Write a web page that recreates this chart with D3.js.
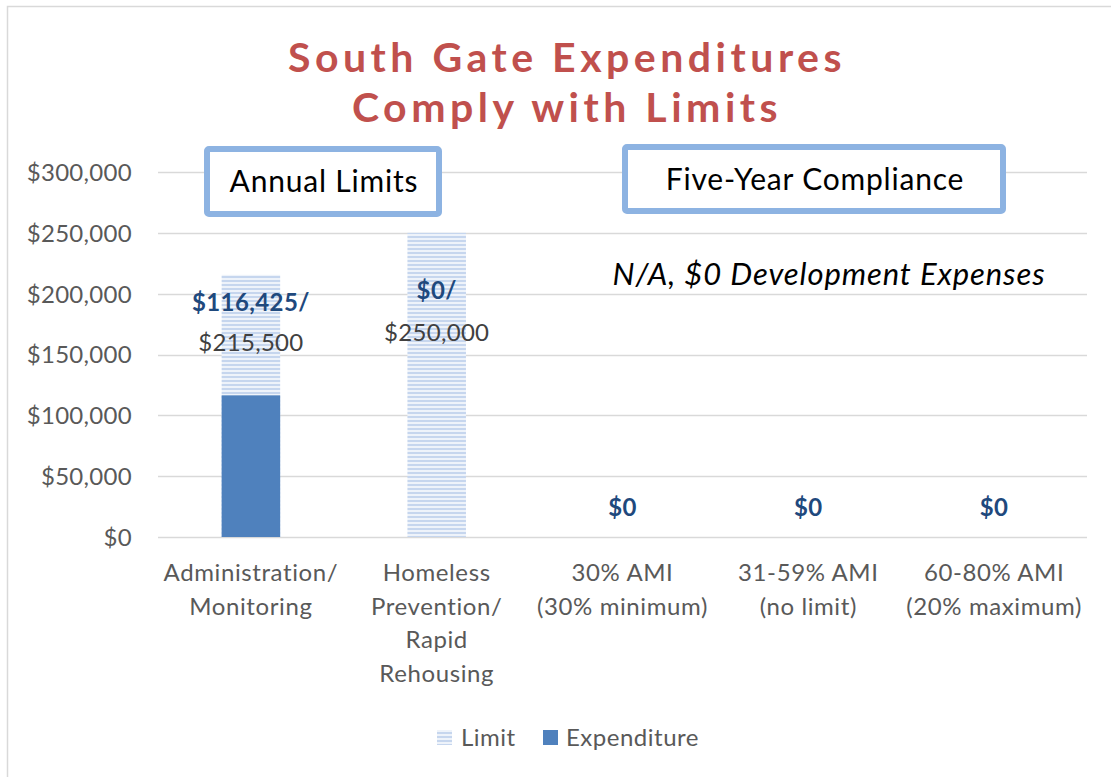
<!DOCTYPE html>
<html>
<head>
<meta charset="utf-8">
<script src="https://cdn.jsdelivr.net/npm/d3@7"></script>
<style>
  html, body { margin: 0; padding: 0; background: #fff; }
  svg { display: block; }
  text { font-family: Lato, "Open Sans", sans-serif; }
</style>
</head>
<body>
<svg id="chart" width="1111" height="777"></svg>
<script>
const categories = [
  ["Administration/", "Monitoring"],
  ["Homeless", "Prevention/", "Rapid", "Rehousing"],
  ["30% AMI", "(30% minimum)"],
  ["31-59% AMI", "(no limit)"],
  ["60-80% AMI", "(20% maximum)"]
];
const limitValues = [215500, 250000, 0, 0, 0];
const expenditureValues = [116425, 0, 0, 0, 0];
const expenditureLabels = ["$116,425/", "$0/", "$0", "$0", "$0"];
const limitLabels = ["$215,500", "$250,000", "", "", ""];
const yTicks = [0, 50000, 100000, 150000, 200000, 250000, 300000];
const seriesNames = ["Limit", "Expenditure"];

const svg = d3.select("#chart");
const W = 1111, H = 777;

// outer border
svg.append("rect").attr("x", 7.5).attr("y", 6.5).attr("width", W).attr("height", H)
  .attr("fill", "#fff").attr("stroke", "#d9d9d9").attr("stroke-width", 1.5);

const defs = svg.append("defs");
const pat = defs.append("pattern").attr("id", "stripes")
  .attr("patternUnits", "userSpaceOnUse").attr("width", 8).attr("height", 4);
pat.append("rect").attr("width", 8).attr("height", 4).attr("fill", "#eef3fa");
pat.append("rect").attr("width", 8).attr("height", 2).attr("fill", "#c6d6ee");

const idx = categories.map((d, i) => i);
const x = d3.scaleBand().domain(idx).range([158, 1087]).padding(0);
const y = d3.scaleLinear().domain([0, 300000]).range([537, 172]);
const barW = x.bandwidth() * 0.315;

// gridlines
svg.append("g").selectAll("line").data(yTicks).join("line")
  .attr("x1", 158).attr("x2", 1087)
  .attr("y1", d => Math.round(y(d)) + 0.5).attr("y2", d => Math.round(y(d)) + 0.5)
  .attr("stroke", "#d9d9d9").attr("stroke-width", 1.5);

// y axis labels
const yAxis = d3.axisLeft(y).tickValues(yTicks).tickSize(0).tickPadding(0)
  .tickFormat(d => "$" + d3.format(",")(d));
const ya = svg.append("g").attr("transform", "translate(132,0)").call(yAxis);
ya.select(".domain").remove();
ya.selectAll("text").attr("fill", "#595959").style("font-size", "24px")
  .style("letter-spacing", "0.3px")
  .style("font-family", "Lato, sans-serif").attr("dy", "0.35em");

// bars
const cx = i => x(i) + x.bandwidth() / 2;
svg.append("g").selectAll("rect").data(limitValues).join("rect")
  .attr("x", (d, i) => cx(i) - barW / 2).attr("width", barW)
  .attr("y", d => y(d)).attr("height", d => y(0) - y(d))
  .attr("fill", "url(#stripes)");
svg.append("g").selectAll("rect").data(expenditureValues).join("rect")
  .attr("x", (d, i) => cx(i) - barW / 2).attr("width", barW)
  .attr("y", d => y(d)).attr("height", d => y(0) - y(d))
  .attr("fill", "#4f81bd");

// data labels
const expLabelY = [311, 299, 516, 516, 516];
const limLabelY = [351, 341];
svg.append("g").selectAll("text").data(expenditureLabels).join("text")
  .attr("x", (d, i) => cx(i)).attr("y", (d, i) => expLabelY[i])
  .attr("text-anchor", "middle").attr("fill", "#1f497d")
  .style("font-size", "24px").style("letter-spacing", "0.4px")
  .style("font-weight", "bold").text(d => d);
svg.append("g").selectAll("text").data(limitLabels.filter(d => d)).join("text")
  .attr("x", (d, i) => cx(i)).attr("y", (d, i) => limLabelY[i])
  .attr("text-anchor", "middle").attr("fill", "#404040")
  .style("font-size", "24px").style("letter-spacing", "0.3px").text(d => d);

// x category labels
const xl = svg.append("g");
categories.forEach((lines, i) => {
  const t = xl.append("text").attr("text-anchor", "middle").attr("fill", "#595959")
    .style("font-size", "24px").style("letter-spacing", "0.6px");
  lines.forEach((ln, j) => {
    t.append("tspan").attr("x", cx(i)).attr("y", 581 + j * 33.5).text(ln);
  });
});

// title
const title = svg.append("g");
[["South Gate Expenditures", 72], ["Comply with Limits", 122]].forEach(([t, yy]) => {
  title.append("text").attr("x", 567).attr("y", yy).attr("text-anchor", "middle")
    .attr("fill", "#c0504d").style("font-size", "41px").style("font-weight", "bold")
    .style("letter-spacing", "4.5px")
    .style("font-family", "Lato, sans-serif").text(t);
});

// annotation boxes
function box(x0, y0, w, h, label, tx, ty) {
  svg.append("rect").attr("x", x0).attr("y", y0).attr("width", w).attr("height", h)
    .attr("rx", 2).attr("fill", "#fff").attr("stroke", "#8db3e2").attr("stroke-width", 6);
  svg.append("text").attr("x", tx).attr("y", ty).attr("text-anchor", "middle")
    .attr("fill", "#000").style("font-size", "30px").style("letter-spacing", "0.8px")
    .text(label);
}
box(207, 149, 232, 65, "Annual Limits", 324, 192);
box(625, 147, 378, 64, "Five-Year Compliance", 815, 190);

svg.append("text").attr("x", 829).attr("y", 285).attr("text-anchor", "middle")
  .attr("fill", "#000").style("font-size", "31px").style("font-style", "italic")
  .style("letter-spacing", "0.9px")
  .text("N/A, $0 Development Expenses");

// legend
const lg = svg.append("g");
lg.append("rect").attr("x", 437).attr("y", 730).attr("width", 15).attr("height", 15)
  .attr("fill", "url(#stripes)");
lg.append("text").attr("x", 461).attr("y", 746).attr("fill", "#595959")
  .style("font-size", "24px").style("letter-spacing", "0.5px").text(seriesNames[0]);
lg.append("rect").attr("x", 543).attr("y", 730).attr("width", 15).attr("height", 15)
  .attr("fill", "#4f81bd");
lg.append("text").attr("x", 566).attr("y", 746).attr("fill", "#595959")
  .style("font-size", "24px").style("letter-spacing", "0.5px").text(seriesNames[1]);
</script>
</body>
</html>
